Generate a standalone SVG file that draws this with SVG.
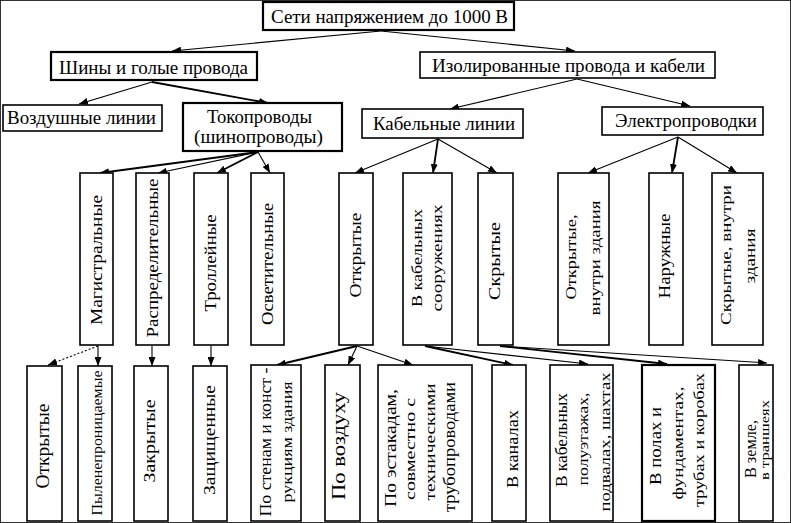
<svg xmlns="http://www.w3.org/2000/svg" width="791" height="523" viewBox="0 0 791 523">
<style>
rect{fill:#fff;stroke:#000;stroke-width:1.6}
rect.b{stroke-width:2.2}
text{font-family:"Times New Roman","Liberation Serif","DejaVu Serif",serif;fill:#000;font-size:18px}
text.h{text-anchor:middle}
text.v{text-anchor:middle;font-size:17px}
text.s{text-anchor:middle;font-size:15px}
#connectors line{stroke:#000;stroke-width:1.1;marker-end:url(#ah)}
#connectors line.t{stroke-width:1.8}
#connectors line.d{stroke-dasharray:2 2}
</style>
<defs>
<marker id="ah" markerUnits="userSpaceOnUse" markerWidth="10" markerHeight="7" refX="9" refY="3.5" orient="auto">
<path d="M0,0 L9,3.5 L0,7 z" fill="#000"/>
</marker>
</defs>
<rect width="791" height="523" fill="#fff" stroke="none"/>

<g id="connectors">
<line x1="381" y1="31" x2="172" y2="51"/>
<line x1="381" y1="31" x2="575" y2="51"/>
<line x1="152" y1="82" x2="79" y2="104"/>
<line class="t" x1="152" y1="82" x2="268" y2="103"/>
<line x1="577" y1="79" x2="450" y2="109"/>
<line x1="577" y1="79" x2="690" y2="106"/>
<line class="t" x1="258" y1="152" x2="100" y2="173"/>
<line x1="258" y1="152" x2="158" y2="173"/>
<line class="t" x1="258" y1="152" x2="217" y2="173"/>
<line x1="258" y1="152" x2="270" y2="173"/>
<line x1="438" y1="139" x2="355" y2="173"/>
<line class="t" x1="438" y1="139" x2="433" y2="173"/>
<line x1="438" y1="139" x2="497" y2="173"/>
<line x1="678" y1="137" x2="588" y2="173"/>
<line class="t" x1="678" y1="137" x2="672" y2="173"/>
<line x1="678" y1="137" x2="737" y2="173"/>
<line class="d" x1="98" y1="346" x2="48" y2="365"/>
<line x1="98" y1="346" x2="98" y2="366"/>
<line x1="152" y1="346" x2="152" y2="366"/>
<line x1="211" y1="346" x2="211" y2="366"/>
<line class="t" x1="357" y1="346" x2="277" y2="365"/>
<line x1="357" y1="346" x2="348" y2="365"/>
<line x1="357" y1="346" x2="413" y2="365"/>
<line class="t" x1="425" y1="346" x2="513" y2="365"/>
<line x1="425" y1="346" x2="588" y2="364"/>
<line class="t" x1="500" y1="346" x2="667" y2="364"/>
<line x1="500" y1="346" x2="767" y2="363"/>
</g>

<g id="n-root"><rect class="b" x="263" y="2" width="251" height="28"/>
<text class="h" x="389.5" y="23" textLength="237" lengthAdjust="spacingAndGlyphs">Сети напряжением до 1000 В</text></g>

<g id="n-shiny"><rect class="b" x="51" y="52" width="206" height="28"/>
<text class="h" x="153.5" y="74" textLength="189" lengthAdjust="spacingAndGlyphs">Шины и голые провода</text></g>

<g id="n-izol"><rect x="420" y="52" width="295" height="26"/>
<text class="h" x="568.5" y="72" textLength="273" lengthAdjust="spacingAndGlyphs">Изолированные провода и кабели</text></g>

<g id="n-vozd"><rect x="3" y="105" width="159" height="26"/>
<text class="h" x="81.5" y="124" textLength="149" lengthAdjust="spacingAndGlyphs">Воздушные линии</text></g>

<g id="n-tok"><rect class="b" x="183" y="103" width="159" height="48"/>
<text class="h" x="259.5" y="123" textLength="105" lengthAdjust="spacingAndGlyphs">Токопроводы</text>
<text class="h" x="258.5" y="143" textLength="129" lengthAdjust="spacingAndGlyphs">(шинопроводы)</text></g>

<g id="n-kab"><rect x="362" y="109" width="161" height="29"/>
<text class="h" x="444" y="130" textLength="142" lengthAdjust="spacingAndGlyphs">Кабельные линии</text></g>

<g id="n-elek"><rect x="602" y="107" width="161" height="28"/>
<text class="h" x="686" y="127" textLength="142" lengthAdjust="spacingAndGlyphs">Электропроводки</text></g>

<g id="n-magistr"><rect x="80" y="173" width="33" height="172"/>
<text class="v" transform="translate(102,260) rotate(-90)" textLength="130" lengthAdjust="spacingAndGlyphs">Магистральные</text></g>
<g id="n-raspr"><rect x="136" y="173" width="33" height="172"/>
<text class="v" transform="translate(158,258) rotate(-90)" textLength="159" lengthAdjust="spacingAndGlyphs">Распределительные</text></g>
<g id="n-troll"><rect x="194" y="173" width="34" height="172"/>
<text class="v" transform="translate(216,263) rotate(-90)" textLength="97" lengthAdjust="spacingAndGlyphs">Троллейные</text></g>
<g id="n-osvet"><rect x="251" y="173" width="33" height="172"/>
<text class="v" transform="translate(273,264) rotate(-90)" textLength="122" lengthAdjust="spacingAndGlyphs">Осветительные</text></g>
<g id="n-otkr1"><rect x="339" y="173" width="34" height="172"/>
<text class="v" transform="translate(361,255) rotate(-90)" textLength="85" lengthAdjust="spacingAndGlyphs">Открытые</text></g>
<g id="n-vkabsoor"><rect x="403" y="173" width="49" height="172"/>
<text class="s" transform="translate(422,258) rotate(-90)" textLength="98" lengthAdjust="spacingAndGlyphs">В кабельных</text>
<text class="s" transform="translate(442,258) rotate(-90)" textLength="107" lengthAdjust="spacingAndGlyphs">сооружениях</text></g>
<g id="n-skr1"><rect x="478" y="173" width="35" height="172"/>
<text class="v" transform="translate(500,261) rotate(-90)" textLength="78" lengthAdjust="spacingAndGlyphs">Скрытые</text></g>
<g id="n-otkrvn"><rect x="558" y="173" width="51" height="172"/>
<text class="s" transform="translate(576,257) rotate(-90)" textLength="85" lengthAdjust="spacingAndGlyphs">Открытые,</text>
<text class="s" transform="translate(600,258) rotate(-90)" textLength="115" lengthAdjust="spacingAndGlyphs">внутри здания</text></g>
<g id="n-naruzh"><rect x="649" y="173" width="34" height="172"/>
<text class="v" transform="translate(670,256) rotate(-90)" textLength="85" lengthAdjust="spacingAndGlyphs">Наружные</text></g>
<g id="n-skrvn"><rect x="712" y="173" width="51" height="172"/>
<text class="s" transform="translate(731,255) rotate(-90)" textLength="140" lengthAdjust="spacingAndGlyphs">Скрытые, внутри</text>
<text class="s" transform="translate(755,256) rotate(-90)" textLength="55" lengthAdjust="spacingAndGlyphs">здания</text></g>

<g id="n-otkr2"><rect x="27" y="366" width="35" height="155"/>
<text class="v" transform="translate(49,446) rotate(-90)" style="font-size:19px" textLength="85" lengthAdjust="spacingAndGlyphs">Открытые</text></g>
<g id="n-pyle"><rect x="78" y="366" width="34" height="155"/>
<text class="v" transform="translate(102,443) rotate(-90)" style="font-size:15px" textLength="145" lengthAdjust="spacingAndGlyphs">Пыленепроницаемые</text></g>
<g id="n-zakr"><rect x="134" y="366" width="34" height="155"/>
<text class="v" transform="translate(155,441) rotate(-90)" textLength="83" lengthAdjust="spacingAndGlyphs">Закрытые</text></g>
<g id="n-zasch"><rect x="193" y="366" width="34" height="155"/>
<text class="v" transform="translate(215,440) rotate(-90)" textLength="110" lengthAdjust="spacingAndGlyphs">Защищенные</text></g>
<g id="n-postenam"><rect x="251" y="365" width="50" height="156"/>
<text class="v" transform="translate(271,442) rotate(-90)" textLength="149" lengthAdjust="spacingAndGlyphs">По стенам и конст -</text>
<text class="s" transform="translate(292,442) rotate(-90)" textLength="121" lengthAdjust="spacingAndGlyphs">рукциям здания</text></g>
<g id="n-povozd"><rect x="325" y="365" width="35" height="156"/>
<text class="v" transform="translate(345,446) rotate(-90)" style="font-size:18px" textLength="108" lengthAdjust="spacingAndGlyphs">По воздуху</text></g>
<g id="n-poestak"><rect x="378" y="365" width="94" height="156"/>
<text class="s" transform="translate(396,448) rotate(-90)" style="font-size:16px" textLength="118" lengthAdjust="spacingAndGlyphs">По эстакадам,</text>
<text class="s" transform="translate(415,449) rotate(-90)" textLength="102" lengthAdjust="spacingAndGlyphs">совместно с</text>
<text class="s" transform="translate(435,442) rotate(-90)" textLength="117" lengthAdjust="spacingAndGlyphs">техническими</text>
<text class="s" transform="translate(455,447) rotate(-90)" style="font-size:16px" textLength="130" lengthAdjust="spacingAndGlyphs">трубопроводами</text></g>
<g id="n-vkanal"><rect x="492" y="365" width="34" height="156"/>
<text class="v" transform="translate(518,449) rotate(-90)" textLength="78" lengthAdjust="spacingAndGlyphs">В каналах</text></g>
<g id="n-vkabpol"><rect x="550" y="365" width="63" height="156"/>
<text class="s" transform="translate(567,440) rotate(-90)" style="font-size:16px" textLength="94" lengthAdjust="spacingAndGlyphs">В кабельных</text>
<text class="s" transform="translate(588,439) rotate(-90)" textLength="93" lengthAdjust="spacingAndGlyphs">полуэтажах,</text>
<text class="s" transform="translate(610,442) rotate(-90)" textLength="139" lengthAdjust="spacingAndGlyphs">подвалах, шахтах</text></g>
<g id="n-vpolah"><rect class="b" x="642" y="365" width="73" height="156"/>
<text class="s" transform="translate(661,446) rotate(-90)" style="font-size:16px" textLength="78" lengthAdjust="spacingAndGlyphs">В полах и</text>
<text class="s" transform="translate(683,443) rotate(-90)" textLength="113" lengthAdjust="spacingAndGlyphs">фундаментах,</text>
<text class="s" transform="translate(704,440) rotate(-90)" textLength="134" lengthAdjust="spacingAndGlyphs">трубах и коробах</text></g>
<g id="n-vzemle"><rect x="739" y="365" width="34" height="156"/>
<text class="s" transform="translate(756,449) rotate(-90)" style="font-size:16px" textLength="58" lengthAdjust="spacingAndGlyphs">В земле,</text>
<text class="s" transform="translate(769,440) rotate(-90)" style="font-size:13px" textLength="80" lengthAdjust="spacingAndGlyphs">в траншеях</text></g>
</svg>
